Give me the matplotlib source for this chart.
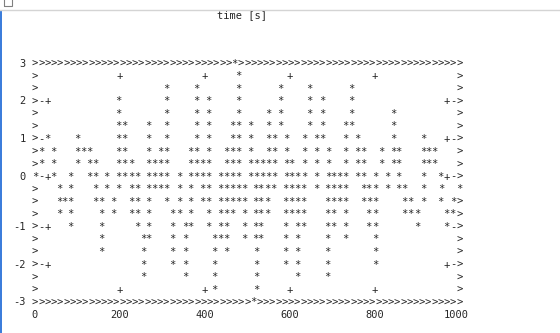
import math
import matplotlib
matplotlib.use("Agg")
import matplotlib.pyplot as plt
from matplotlib.patches import Rectangle
from matplotlib.lines import Line2D

# ---------------- data ----------------
x_title = "time [s]"
x_ticks = [0, 200, 400, 600, 800, 1000]
y_ticks = [3, 2, 1, 0, -1, -2, -3]

# character rows of the plot (value of each text row, top to bottom)
row_levels = [3.00, 2.68, 2.37, 2.05, 1.74, 1.42, 1.11, 0.79, 0.47, 0.16,
              -0.16, -0.47, -0.79, -1.11, -1.42, -1.74, -2.05, -2.37, -2.68, -3.00]

# times [s] of the '*' marks in each row
stars_r00 = [477]
stars_r01 = [478]
stars_r02 = [309, 380, 478, 577, 647, 746]
stars_r03 = [197, 309, 380, 408, 478, 577, 647, 676, 746]
stars_r04 = [197, 309, 380, 408, 478, 549, 577, 647, 676, 746, 844]
stars_r05 = [197, 211, 268, 309, 380, 408, 464, 480, 507, 549, 577, 647, 676, 732, 746, 844]
stars_r06 = [29, 100, 197, 211, 268, 309, 380, 408, 464, 480, 507, 549, 563, 591, 634,
             662, 676, 732, 760, 844, 914]
stars_r07 = [15, 42, 100, 114, 128, 197, 211, 268, 296, 309, 367, 380, 408, 451, 464, 478,
             507, 549, 563, 591, 634, 662, 690, 732, 760, 773, 817, 844, 857, 914, 927, 941]
stars_r08 = [15, 42, 100, 128, 142, 197, 211, 226, 268, 282, 296, 309, 367, 380, 394, 408,
             451, 464, 478, 507, 521, 535, 549, 563, 591, 605, 634, 662, 690, 732, 760, 773,
             817, 844, 857, 914, 927, 941]
stars_r09 = [0, 42, 84, 128, 142, 169, 197, 211, 226, 240, 268, 282, 296, 309, 339, 367,
             380, 394, 408, 437, 451, 464, 478, 507, 521, 535, 549, 563, 591, 605, 619, 634,
             662, 690, 704, 718, 732, 760, 773, 801, 829, 857, 914, 955]
stars_r10 = [56, 84, 141, 168, 197, 226, 240, 268, 282, 296, 309, 339, 367, 394, 408, 437,
             451, 465, 479, 494, 519, 532, 547, 561, 589, 603, 617, 632, 662, 689, 703, 717,
             731, 773, 786, 801, 829, 856, 870, 915, 958, 1000]
stars_r11 = [56, 70, 84, 141, 155, 184, 226, 240, 268, 309, 339, 367, 394, 408, 437, 451,
             465, 479, 494, 519, 532, 547, 589, 603, 617, 632, 689, 703, 717, 731, 773, 787,
             801, 870, 884, 915, 955, 986]
stars_r12 = [56, 84, 155, 184, 226, 240, 268, 324, 339, 367, 408, 437, 451, 464, 494, 519,
             532, 547, 589, 603, 617, 632, 689, 703, 732, 786, 801, 870, 884, 900, 970, 984]
stars_r13 = [84, 155, 240, 268, 324, 353, 367, 408, 437, 451, 494, 519, 532, 589, 617, 632,
             689, 703, 732, 786, 801, 900, 970]
stars_r14 = [155, 255, 268, 324, 353, 422, 437, 451, 494, 519, 532, 589, 617, 689, 732, 801]
stars_r15 = [155, 255, 324, 353, 422, 451, 521, 589, 617, 689, 801]
stars_r16 = [255, 324, 353, 422, 521, 589, 617, 689, 801]
stars_r17 = [255, 353, 422, 521, 617, 689]
stars_r18 = [422, 521]
stars_r19 = [521]

star_rows = [stars_r00, stars_r01, stars_r02, stars_r03, stars_r04, stars_r05, stars_r06,
             stars_r07, stars_r08, stars_r09, stars_r10, stars_r11, stars_r12, stars_r13,
             stars_r14, stars_r15, stars_r16, stars_r17, stars_r18, stars_r19]

# ---------------- layout ----------------
W, H, DPI = 560, 333, 100
N_COLS = 68                      # character columns between 0 and 1000 s
N_ROWS = len(row_levels) - 1     # character rows between 3 and -3
T_MIN, T_MAX = x_ticks[0], x_ticks[-1]
Y_MIN, Y_MAX = y_ticks[-1], y_ticks[0]
col_w = (T_MAX - T_MIN) / N_COLS
row_h = (Y_MAX - Y_MIN) / N_ROWS

px_left, px_right = 35.0, 459.3   # pixel x of t=0 and t=1000
px_top, px_bot = 63.0, 301.7      # pixel y of y=3 and y=-3
sx = (px_right - px_left) / (T_MAX - T_MIN)
sy = (px_bot - px_top) / (Y_MAX - Y_MIN)

fig = plt.figure(figsize=(W / DPI, H / DPI), dpi=DPI)
fig.patch.set_facecolor("white")
ax = fig.add_axes([0, 0, 1, 1])
ax.set_xlim(T_MIN - px_left / sx, T_MIN + (W - px_left) / sx)
ax.set_ylim(Y_MAX - (H - px_top) / sy, Y_MAX + px_top / sy)
ax.axis("off")

FS = 7.5
FONT = "DejaVu Sans Mono"
COLOR = "#262626"
base_off = 3.6 / sy   # baseline below row centre


def char(t, y, s, ha="center", color=COLOR):
    ax.text(t, y - base_off, s, ha=ha, va="baseline", fontsize=FS,
            family=FONT, color=color)


def col_of(t):
    return int(round((t - T_MIN) / col_w))


def row_of(v):
    return int(math.floor((Y_MAX - v) / row_h + 0.5 - 1e-9))


occupied = [set(col_of(t) for t in row) for row in star_rows]
last = N_ROWS

# stars (on the border rows they take the place of a border character)
for r, (level, times) in enumerate(zip(row_levels, star_rows)):
    for t in times:
        if r in (0, last):
            char(T_MIN + col_of(t) * col_w, level, "*")
        else:
            char(t, level, "*")

# top and bottom border rows
for r in (0, last):
    for c in range(N_COLS + 1):
        if c not in occupied[r]:
            char(T_MIN + c * col_w, row_levels[r], ">")

# side borders
for r in range(1, last):
    if 0 not in occupied[r]:
        char(T_MIN, row_levels[r], ">")
    if N_COLS not in occupied[r]:
        char(T_MAX, row_levels[r], ">")

# y tick marks and labels
for v in y_ticks:
    r = row_of(v)
    lvl = row_levels[r]
    if 0 < r < last:
        if 1 not in occupied[r]:
            char(T_MIN + 1 * col_w, lvl, "-")
        if 2 not in occupied[r]:
            char(T_MIN + 2 * col_w, lvl, "+")
        if N_COLS - 2 not in occupied[r]:
            char(T_MIN + (N_COLS - 2) * col_w, lvl, "+")
        if N_COLS - 1 not in occupied[r]:
            char(T_MIN + (N_COLS - 1) * col_w, lvl, "-")
    char(T_MIN - 1.5 * col_w, lvl, str(v), ha="right")

# x tick marks (inside top and bottom border) and labels
for t in x_ticks[1:-1]:
    char(t, row_levels[1], "+")
    char(t, row_levels[last - 1], "+")
label_level = Y_MIN - row_h
for t in x_ticks:
    s = str(t)
    shift = -0.5 * col_w if len(s) % 2 == 0 else 0.0
    char(t + shift, label_level, s)

# axis title at top
char(487, Y_MAX + 4 * row_h * 0.97, x_title)

# window chrome (screenshot frame)
fig.add_artist(Line2D([0, 1], [1 - 9.5 / H, 1 - 9.5 / H], transform=fig.transFigure,
                      color="#d4d4d4", lw=1.0))
fig.add_artist(Rectangle((0, 0), 2.0 / W, 1 - 10 / H, transform=fig.transFigure,
                         facecolor="#3c7ddb", edgecolor="none"))
fig.add_artist(Rectangle((3.5 / W, 1 - 5.5 / H), 8 / W, 8 / H, transform=fig.transFigure,
                         facecolor="none", edgecolor="#808080", lw=0.8))

fig.savefig("out.png", dpi=DPI, facecolor="white")
